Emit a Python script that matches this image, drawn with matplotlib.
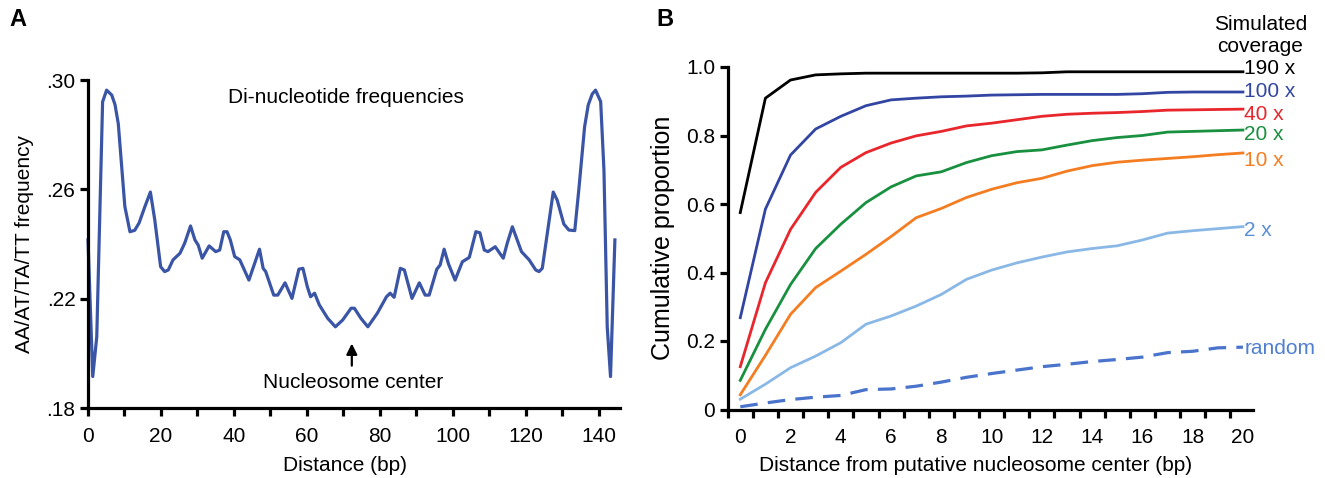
import numpy as np
import matplotlib
matplotlib.use("Agg")
import matplotlib.pyplot as plt
from matplotlib.ticker import FixedLocator

plt.rcParams['font.family'] = ['Liberation Sans', 'DejaVu Sans']

# ---- Panel A: di-nucleotide frequency along the nucleosome ----
dist_bp = [0, 1.3, 2.4, 4.0, 5.1, 6.5, 7.4, 8.3, 10.1, 11.5, 12.8, 14.0, 15.6, 17.1,
           18.3, 19.9, 21.0, 22.0, 23.3, 25.2, 26.5, 28.1, 29.3, 30.2, 31.3, 33.2,
           35.0, 36.1, 37.2, 38.1, 39.0, 40.2, 41.6, 44.1, 47.0, 48.0, 48.7, 50.9,
           52.0, 54.0, 55.9, 57.8, 58.9, 60.1, 61.0, 62.1, 63.4, 65.7, 67.8, 69.8,
           72.1, 73.0, 74.8, 76.7, 79.3, 81.8, 82.8, 83.9, 85.6, 86.7, 88.8, 90.8,
           92.4, 93.5, 95.6, 96.5, 97.6, 98.8, 100.6, 102.6, 104.5, 106.3, 107.4,
           108.6, 109.6, 111.6, 113.8, 114.9, 116.3, 118.8, 120.9, 122.7, 123.6,
           124.5, 127.5, 128.6, 130.4, 131.8, 133.4, 134.5, 136.1, 137.1, 138.2,
           139.1, 140.5, 141.4, 142.3, 143.2, 144.4]
aatt_freq = [0.2415, 0.1915, 0.2060, 0.2920, 0.2963, 0.2945, 0.2910, 0.2840, 0.2537,
             0.2445, 0.2450, 0.2477, 0.2537, 0.2590, 0.2488, 0.2317, 0.2299, 0.2305,
             0.2342, 0.2366, 0.2403, 0.2466, 0.2415, 0.2396, 0.2348, 0.2393, 0.2372,
             0.2378, 0.2445, 0.2445, 0.2415, 0.2354, 0.2342, 0.2268, 0.2381, 0.2311,
             0.2299, 0.2213, 0.2213, 0.2258, 0.2201, 0.2308, 0.2311, 0.2244, 0.2207,
             0.2220, 0.2177, 0.2128, 0.2097, 0.2122, 0.2165, 0.2165, 0.2128, 0.2097,
             0.2147, 0.2207, 0.2220, 0.2205, 0.2311, 0.2305, 0.2201, 0.2258, 0.2213,
             0.2213, 0.2308, 0.2323, 0.2381, 0.2327, 0.2268, 0.2335, 0.2351, 0.2445,
             0.2441, 0.2378, 0.2372, 0.2390, 0.2348, 0.2403, 0.2463, 0.2372, 0.2342,
             0.2305, 0.2299, 0.2311, 0.2590, 0.2560, 0.2473, 0.2451, 0.2449, 0.2597,
             0.2829, 0.2909, 0.2949, 0.2963, 0.2921, 0.2671, 0.2097, 0.1915, 0.2415]

# ---- Panel B: cumulative proportion vs distance ----
dist_center = list(range(21))
cov_190 = [0.575, 0.909, 0.962, 0.977, 0.980, 0.982, 0.982, 0.982, 0.982, 0.982, 0.982,
           0.982, 0.983, 0.986, 0.986, 0.986, 0.986, 0.986, 0.986, 0.986, 0.986]
cov_100 = [0.268, 0.585, 0.743, 0.819, 0.856, 0.887, 0.904, 0.909, 0.913, 0.915, 0.918,
           0.919, 0.920, 0.920, 0.920, 0.920, 0.922, 0.926, 0.927, 0.927, 0.927]
cov_40 = [0.125, 0.370, 0.526, 0.634, 0.707, 0.750, 0.778, 0.799, 0.812, 0.828, 0.836,
          0.846, 0.856, 0.862, 0.865, 0.867, 0.870, 0.874, 0.875, 0.876, 0.877]
cov_20 = [0.085, 0.234, 0.365, 0.470, 0.541, 0.604, 0.650, 0.682, 0.694, 0.721, 0.741,
          0.753, 0.758, 0.772, 0.785, 0.794, 0.800, 0.810, 0.812, 0.814, 0.816]
cov_10 = [0.043, 0.158, 0.278, 0.356, 0.404, 0.453, 0.505, 0.560, 0.587, 0.619, 0.643,
          0.662, 0.675, 0.696, 0.712, 0.722, 0.728, 0.733, 0.738, 0.744, 0.749]
cov_2 = [0.030, 0.074, 0.122, 0.156, 0.195, 0.249, 0.273, 0.302, 0.336, 0.380, 0.407,
         0.428, 0.445, 0.460, 0.470, 0.478, 0.495, 0.515, 0.522, 0.528, 0.534]
cov_random = [0.008, 0.019, 0.029, 0.036, 0.041, 0.058, 0.060, 0.068, 0.080, 0.094, 0.105,
              0.115, 0.125, 0.132, 0.140, 0.146, 0.153, 0.166, 0.170, 0.180, 0.182]
series_labels = ["190 x", "100 x", "40 x", "20 x", "10 x", "2 x", "random"]

fig = plt.figure(figsize=(13.25, 4.78), dpi=100)
W, H = 1325, 478
axA = fig.add_axes([88 / W, 70 / H, 532 / W, 328 / H])
axB = fig.add_axes([727.7 / W, 68.5 / H, 525.3 / W, 342.5 / H])

FS = 15
for ax in (axA, axB):
    for s in ("top", "right"):
        ax.spines[s].set_visible(False)
    for s in ("left", "bottom"):
        ax.spines[s].set_linewidth(2.3)
    ax.tick_params(which="both", direction="out", length=6, width=2.3,
                   labelsize=FS, pad=3)

# panel A
axA.plot(dist_bp, aatt_freq, color="#3b55a6", lw=2.3, clip_on=False)
axA.set_xlim(0, 145.8)
axA.set_ylim(0.18, 0.30)
axA.set_xticks(range(0, 141, 20))
axA.set_xticks(range(10, 141, 20), minor=True)
axA.tick_params(axis="x", which="major", pad=8)
axA.set_yticks([0.18, 0.22, 0.26, 0.30])
axA.set_yticklabels([".18", ".22", ".26", ".30"])
axA.set_xlabel("Distance (bp)", fontsize=FS, labelpad=7)
axA.xaxis.label.set_x(0.483)
axA.set_ylabel("AA/AT/TA/TT frequency", fontsize=FS, labelpad=9)
axA.text(70.7, 0.2935, "Di-nucleotide frequencies", fontsize=FS,
         ha="center", va="center")
axA.annotate("", xy=(72.3, 0.2036), xytext=(72.3, 0.1955),
             arrowprops=dict(arrowstyle="-|>", color="black", lw=1.6,
                             mutation_scale=16, shrinkA=0, shrinkB=0))
axA.text(72.6, 0.1895, "Nucleosome center", fontsize=FS, ha="center", va="center")

# panel B
series = [cov_190, cov_100, cov_40, cov_20, cov_10, cov_2, cov_random]
line_colors = ["black", "#3345a3", "#e8262b", "#18903f", "#f47d21", "#8ab8e6", "#4a74cc"]
text_colors = ["black", "#3345a3", "#e8262b", "#18903f", "#f47d21", "#5a8fd8", "#4f7fd0"]
nudges = [3.5, 1.8, -2.2, -1.6, -4.0, -1.2, 0.8]   # label offsets in points
for i, (vals, lab) in enumerate(zip(series, series_labels)):
    dashed = lab == "random"
    axB.plot(dist_center, vals, color=line_colors[i],
             ls=(0, (5.5, 3.2)) if dashed else "-",
             lw=2.3 if dashed else 2.0, clip_on=False)
    axB.annotate(lab, xy=(dist_center[-1], vals[-1]), xytext=(1, nudges[i]),
                 textcoords="offset points", color=text_colors[i], fontsize=FS,
                 ha="left", va="center_baseline", annotation_clip=False)

axB.set_xlim(-0.5, 20.4)
axB.set_ylim(0, 1.0)
axB.xaxis.set_major_locator(FixedLocator(range(0, 21, 2)))
axB.xaxis.set_minor_locator(FixedLocator(np.arange(-0.5, 20, 1.0)))
axB.tick_params(axis="x", which="major", length=0, pad=13)
axB.set_yticks([0, 0.2, 0.4, 0.6, 0.8, 1.0])
axB.set_yticklabels(["0", "0.2", "0.4", "0.6", "0.8", "1.0"])
axB.set_xlabel("Distance from putative nucleosome center (bp)", fontsize=FS, labelpad=7)
axB.xaxis.label.set_x(0.471)
axB.set_ylabel("Cumulative proportion", fontsize=18, labelpad=8)
axB.text(1.0 + 7.5 / 525.3, 1.092, "Simulated\ncoverage", transform=axB.transAxes,
         fontsize=FS, ha="center", va="center", linespacing=1.15)

fig.text(18 / W, 1 - 20 / H, "A", fontsize=17, fontweight="bold", ha="center", va="center")
fig.text(665 / W, 1 - 20 / H, "B", fontsize=17, fontweight="bold", ha="center", va="center")

fig.savefig("out.png", dpi=100)
